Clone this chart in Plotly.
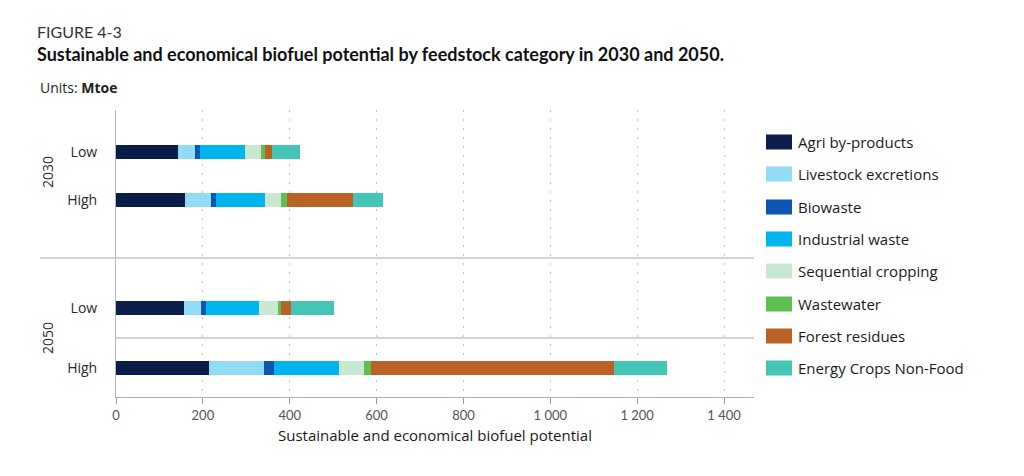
import plotly.graph_objects as go

# ---------------- data ----------------
rows = ["2030 Low", "2030 High", "2050 Low", "2050 High"]
row_labels = ["Low", "High", "Low", "High"]
groups = ["2030", "2050"]

series_names = [
    "Agri by-products",
    "Livestock excretions",
    "Biowaste",
    "Industrial waste",
    "Sequential cropping",
    "Wastewater",
    "Forest residues",
    "Energy Crops Non-Food",
]
agri = [143, 160, 157, 215]
livestock = [39, 58, 39, 125]
biowaste = [11, 13, 11, 24]
industrial = [104, 111, 123, 150]
sequential = [36, 39, 42, 56]
wastewater = [9, 13, 9, 16]
forest = [18, 151, 21, 560]
energy = [64, 70, 99, 123]
series_values = [agri, livestock, biowaste, industrial, sequential, wastewater, forest, energy]

x_tick_vals = [0, 200, 400, 600, 800, 1000, 1200, 1400]
x_tick_text = ["0", "200", "400", "600", "800", "1 000", "1 200", "1 400"]

# ---------------- style ----------------
colors = ["#0b1d4a", "#92dcf5", "#0a56b0", "#00b4ee", "#c8e8d2", "#5dbf4f", "#ba6225", "#45c5b7"]
FONT = "Open Sans"
TFONT = "Lato"

OFF = 8                                   # page body margin
W, H = 1024 - OFF, 476 - OFF
L, R, T, B = 116, 754, 110, 397           # plot area in screen pixels
row_pos = [42, 90, 198, 258]              # row centres on a 0..287 reversed axis
sep_pos = [148, 228]
X_MAX = 1469


def px_x(p):
    return (p - L) / (R - L)


def px_y(p):
    return (B - p) / (B - T)


fig = go.Figure()
for name, vals, col in zip(series_names, series_values, colors):
    fig.add_trace(go.Bar(
        y=row_pos, x=vals, name=name, orientation="h",
        marker=dict(color=col, line=dict(width=0)),
        width=14, showlegend=False,
        customdata=rows, hovertemplate="%{customdata}<br>" + name + ": %{x}<extra></extra>",
    ))

shapes = []
annotations = []

# separators
shapes.append(dict(type="line", xref="paper", yref="y", x0=px_x(40), x1=1, y0=sep_pos[0], y1=sep_pos[0],
                   line=dict(color="#c4c4c4", width=1.5)))
shapes.append(dict(type="line", xref="paper", yref="y", x0=0, x1=1, y0=sep_pos[1], y1=sep_pos[1],
                   line=dict(color="#c4c4c4", width=1.5)))

# group labels
for g, yp in zip(groups, [172, 338]):
    annotations.append(dict(text=g, xref="paper", yref="paper", x=px_x(47), y=px_y(yp),
                            textangle=-90, showarrow=False, xanchor="center", yanchor="middle",
                            font=dict(family=FONT, size=14, color="#2a2a2a", weight=500)))

# manual legend
leg_y = [142, 174, 207, 239, 271, 304, 336, 368]
for name, col, yp in zip(series_names, colors, leg_y):
    shapes.append(dict(type="rect", xref="paper", yref="paper",
                       x0=px_x(766), x1=px_x(792), y0=px_y(yp + 7.5), y1=px_y(yp - 7.5),
                       fillcolor=col, line=dict(width=0)))
    annotations.append(dict(text=name, xref="paper", yref="paper", x=px_x(796), y=px_y(yp),
                            showarrow=False, xanchor="left", yanchor="middle",
                            font=dict(family=FONT, size=15, color="#1a1a1a", weight=500)))

# titles
annotations.append(dict(text="FIGURE 4-3", xref="paper", yref="paper", x=px_x(35), y=px_y(31),
                        showarrow=False, xanchor="left", yanchor="middle",
                        font=dict(family=TFONT, size=16, color="#333333")))
annotations.append(dict(text="<b>Sustainable and economical biofuel potential by feedstock category in 2030 and 2050.</b>",
                        xref="paper", yref="paper", x=px_x(35), y=px_y(54),
                        showarrow=False, xanchor="left", yanchor="middle",
                        font=dict(family=TFONT, size=18, color="#111111")))
annotations.append(dict(text="Units: <b>Mtoe</b>", xref="paper", yref="paper", x=px_x(38), y=px_y(87),
                        showarrow=False, xanchor="left", yanchor="middle",
                        font=dict(family=FONT, size=14, color="#222222")))

fig.update_layout(
    width=W, height=H,
    barmode="stack",
    bargap=0,
    margin=dict(l=L - OFF, r=W - (R - OFF), t=T - OFF, b=H - (B - OFF), pad=0),
    paper_bgcolor="white", plot_bgcolor="white",
    font=dict(family=FONT, color="#333333"),
    shapes=shapes, annotations=annotations,
    xaxis=dict(
        range=[0, X_MAX], tickvals=x_tick_vals, ticktext=x_tick_text,
        showgrid=True, gridcolor="#c4c4c4", griddash="2px,7px", gridwidth=1,
        showline=True, linecolor="#b0b0b0", linewidth=1,
        ticks="outside", ticklen=6, tickcolor="#9a9a9a",
        tickfont=dict(family=TFONT, size=13, color="#555555"),
        zeroline=False,
        title=dict(text="Sustainable and economical biofuel potential", standoff=8,
                   font=dict(family=FONT, size=15, color="#1a1a1a", weight=500)),
    ),
    yaxis=dict(
        range=[B - T, 0], tickvals=row_pos, ticktext=row_labels,
        showgrid=False, zeroline=False,
        showline=True, linecolor="#b8b8b8", linewidth=1,
        ticks="", ticklabelstandoff=15,
        tickfont=dict(family=FONT, size=14, color="#2a2a2a", weight=500),
    ),
)

fig.write_html("out.html")
